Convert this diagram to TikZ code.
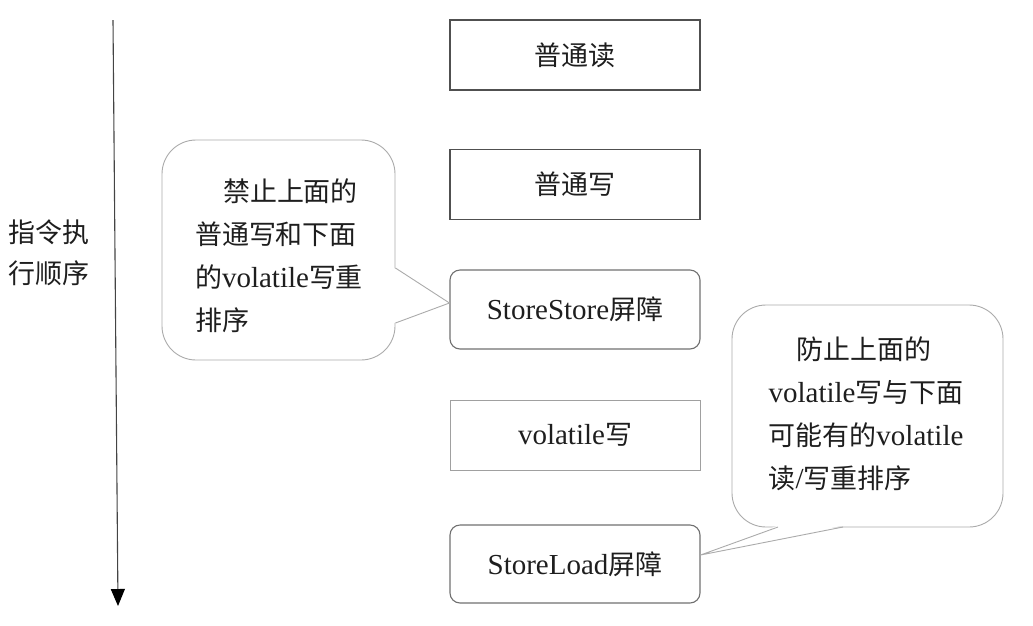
\documentclass[tikz,border=0pt]{standalone}
\usepackage{fontspec}
\setmainfont{Liberation Serif}
\newfontfamily\cjk[Scale=0.93]{Noto Sans CJK SC}
\usetikzlibrary{arrows.meta,calc}
\definecolor{txt}{HTML}{1E1E1E}
\definecolor{boxline}{HTML}{505050}
\definecolor{barline}{HTML}{707070}
\definecolor{volline}{HTML}{A0A0A0}
\definecolor{callline}{HTML}{ABABAB}
\definecolor{arrline}{HTML}{444444}
\begin{document}
\begin{tikzpicture}[x=1pt,y=-1pt,
  font=\fontsize{29}{43}\selectfont,
  plainbox/.style={draw=boxline, line width=1.1pt, minimum width=250pt, minimum height=70pt, inner sep=0pt, text=txt},
  barrier/.style={plainbox, draw=barline, rounded corners=10pt, minimum height=79pt},
  callbody/.style={draw=callline, fill=white, line width=0.9pt, rounded corners=34pt, inner sep=0pt},
  callline/.style={draw=callline, line width=0.9pt, line join=miter},
  calltext/.style={align=left, text=txt, inner sep=0pt},
]
\useasboundingbox (0,0) rectangle (1033,625);

% boxes
\node[plainbox] (r) at (575,55) {\cjk 普通读};
\node[plainbox] (w) at (575,184.5) {\cjk 普通写};
\node[barrier] (ss) at (575,309.5) {StoreStore{\cjk 屏障}};
\node[plainbox, draw=volline, line width=0.9pt] (vw) at (575,435) {volatile{\cjk 写}};
\node[barrier, minimum height=78pt] (sl) at (575,564) {StoreLoad{\cjk 屏障}};

% time arrow
\coordinate (atop) at (113,20);
\coordinate (abot) at (118,606);
\draw[arrline, line width=1.1pt, -{Triangle[width=14pt,length=17pt,fill=black,color=black]}] (atop) -- (abot);
\node[align=left, text=txt, inner sep=0pt, font=\fontsize{29}{41}\selectfont] (lab) at (49,253)
  {{\cjk 指令执}\\{\cjk 行顺序}};

% left callout
\node[callbody, minimum width=233pt, minimum height=220pt] (c1) at (278.5,250) {};
\coordinate (c1a) at ($(c1.east)+(0,18)$);
\coordinate (c1b) at ($(c1.east)+(0,73)$);
\coordinate (t1) at ($(ss.west)+(0,-6.5)$);
\fill[white] ($(c1a)+(-1.5,0)$) -- (t1) -- ($(c1b)+(-1.5,0)$) -- cycle;
\draw[callline] (c1a) -- (t1) -- (c1b);
\node[calltext] (c1t) at (279,256)
  {\hspace*{28pt}{\cjk 禁止上面的}\\
   {\cjk 普通写和下面}\\
   {\cjk 的}volatile{\cjk 写重}\\
   {\cjk 排序}};

% right callout
\node[callbody, minimum width=271pt, minimum height=222pt] (c2) at (867.5,416) {};
\coordinate (c2a) at (778,527);
\coordinate (c2b) at (843,527);
\coordinate (t2) at ($(sl.east)+(0,-9)$);
\fill[white] ($(c2a)+(0,-1.5)$) -- (t2) -- ($(c2b)+(0,-1.5)$) -- cycle;
\draw[callline] (c2a) -- (t2) -- (c2b);
\node[calltext] (c2t) at (866,414)
  {\hspace*{28pt}{\cjk 防止上面的}\\
   volatile{\cjk 写与下面}\\
   {\cjk 可能有的}volatile\\
   {\cjk 读}/{\cjk 写重排序}};
\end{tikzpicture}
\end{document}
